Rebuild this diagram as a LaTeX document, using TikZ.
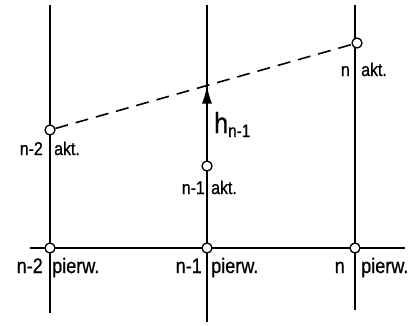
\documentclass[tikz,border=0pt]{standalone}
\usepackage{fontspec}
\setmainfont{Liberation Sans}[FakeBold=0.8]
\usetikzlibrary{arrows.meta,calc}

\newcommand{\wz}[1]{\scalebox{0.86}[1]{#1}}

\tikzset{
  pkt/.style={circle,draw,fill=white,line width=1.3pt,inner sep=0pt,minimum size=10pt},
  linia/.style={line width=1.8pt},
  lbl/.style={inner sep=0pt,font=\fontsize{18.5}{18.5}\selectfont},
  lblp/.style={inner sep=0pt,font=\fontsize{21}{21}\selectfont},
}

\begin{document}
\begin{tikzpicture}[x=1pt,y=-1pt]
\useasboundingbox (0,0) rectangle (414,325);
% ends of the lines
\coordinate (t2) at (50,5);  \coordinate (d2) at (50,313);
\coordinate (t1) at (207,5); \coordinate (d1) at (207,322);
\coordinate (t0) at (355,5); \coordinate (d0) at (355,310);
\coordinate (l) at (30,248); \coordinate (r) at (405,248);
\draw[linia] (t2) -- (d2);
\draw[linia] (t1) -- (d1);
\draw[linia] (t0) -- (d0);
\draw[linia] (l) -- (r);
% points
\node[pkt] (p2) at (50,248) {};
\node[pkt] (p1) at (207,248) {};
\node[pkt] (p0) at (355,248) {};
\node[pkt] (a2) at (50,130) {};
\node[pkt] (a1) at (207,166) {};
\node[pkt] (a0) at (357,43) {};
\draw[line width=1.6pt,dash pattern=on 13pt off 8pt] (a2) -- (a0);
\coordinate (x) at (intersection of a2--a0 and t1--d1);
\draw[linia,-{Latex[length=18pt,width=10pt]}] (a1) -- (x);
\node[inner sep=0pt,anchor=base west] (h) at (214,133)
  {\fontsize{29}{29}\selectfont\wz{h}\raisebox{-4pt}{\fontsize{18}{18}\selectfont\wz{n-1}}};
% labels
\node[lbl,anchor=base east] at (43,155) {\wz{n-2}};
\node[lbl,anchor=base west] at (54,155) {\wz{akt.}};
\node[lbl,anchor=base east] at (205,194) {\wz{n-1}};
\node[lbl,anchor=base west] at (211,194) {\wz{akt.}};
\node[lbl,anchor=base east] at (350,76) {\wz{n}};
\node[lbl,anchor=base west] at (361,76) {\wz{akt.}};
\node[lblp,anchor=base east] at (43,273) {\wz{n-2}};
\node[lblp,anchor=base west] at (52,273) {\wz{pierw.}};
\node[lblp,anchor=base east] at (202,273) {\wz{n-1}};
\node[lblp,anchor=base west] at (211,273) {\wz{pierw.}};
\node[lblp,anchor=base east] at (345,273) {\wz{n}};
\node[lblp,anchor=base west] at (361,273) {\wz{pierw.}};
\end{tikzpicture}
\end{document}
